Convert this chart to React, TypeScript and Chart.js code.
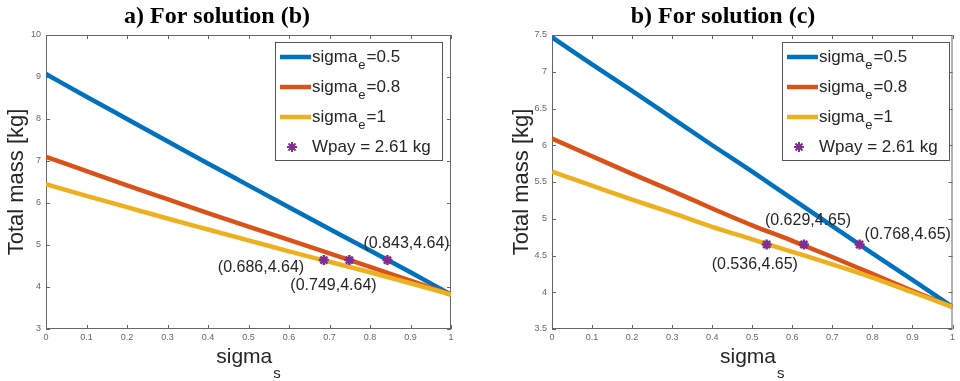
import React, { useEffect, useRef } from "react";
import { Chart, registerables } from "chart.js";
Chart.register(...registerables);

// ---------- data ----------
const sigmaS = [0, 0.1, 0.2, 0.3, 0.4, 0.5, 0.6, 0.7, 0.8, 0.9, 1];

// panel a) For solution (b)
const aBlue = [9.07, 8.53, 8.0, 7.47, 6.94, 6.42, 5.9, 5.38, 4.87, 4.35, 3.82];
const aRed = [7.1, 6.76, 6.42, 6.09, 5.76, 5.44, 5.12, 4.8, 4.48, 4.15, 3.82];
const aYellow = [6.45, 6.17, 5.9, 5.63, 5.37, 5.11, 4.85, 4.6, 4.35, 4.09, 3.82];
const aPointsX = [0.686, 0.749, 0.843];
const aPointsY = [4.64, 4.64, 4.64];
const aPointLabels = ["(0.686,4.64)", "(0.749,4.64)", "(0.843,4.64)"];

// panel b) For solution (c)
const bBlue = [7.47, 7.1, 6.74, 6.37, 6.0, 5.64, 5.27, 4.9, 4.53, 4.17, 3.8];
const bRed = [6.09, 5.85, 5.61, 5.38, 5.14, 4.91, 4.7, 4.48, 4.25, 4.02, 3.8];
const bYellow = [5.64, 5.45, 5.26, 5.08, 4.89, 4.72, 4.55, 4.38, 4.2, 4.0, 3.8];
const bPointsX = [0.536, 0.629, 0.768];
const bPointsY = [4.65, 4.65, 4.65];
const bPointLabels = ["(0.536,4.65)", "(0.629,4.65)", "(0.768,4.65)"];

const legendValues = ["=0.5", "=0.8", "=1"];
const markerLegend = "Wpay = 2.61 kg";
const titles = ["a) For solution (b)", "b) For solution (c)"];
const yTitle = "Total mass [kg]";

const BLUE = "#0072BD";
const RED = "#D95319";
const YELLOW = "#EDB120";
const PURPLE = "#7E2F8E";

const SANS = "'Liberation Sans', Arial, sans-serif";

const fmt = (v: number) => String(Number(v.toFixed(3)));

const decoPlugin = {
  id: "deco",
  beforeDatasetsDraw(chart: any) {
    const { left, right, top, bottom } = chart.chartArea;
    const ctx = chart.ctx;
    const xs = chart.scales.x, ys = chart.scales.y;
    ctx.save();
    ctx.strokeStyle = "#666";
    ctx.lineWidth = 1;
    ctx.strokeRect(left + 0.5, top + 0.5, right - left - 1, bottom - top - 1);
    ctx.beginPath();
    xs.ticks.forEach((t: any) => {
      const px = Math.round(xs.getPixelForValue(t.value)) + 0.5;
      ctx.moveTo(px, bottom); ctx.lineTo(px, bottom - 4);
      ctx.moveTo(px, top); ctx.lineTo(px, top + 4);
    });
    ys.ticks.forEach((t: any) => {
      const py = Math.round(ys.getPixelForValue(t.value)) + 0.5;
      ctx.moveTo(left, py); ctx.lineTo(left + 4, py);
      ctx.moveTo(right, py); ctx.lineTo(right - 4, py);
    });
    ctx.stroke();
    ctx.restore();
  },
  afterDraw(chart: any) {
    const o = chart.options.plugins.deco;
    const ctx = chart.ctx;
    const { left, right } = chart.chartArea;
    const xs = chart.scales.x, ys = chart.scales.y;
    ctx.save();
    // title
    ctx.fillStyle = "#000";
    ctx.font = "bold 24px 'Liberation Serif', 'Times New Roman', serif";
    ctx.textAlign = "center";
    ctx.textBaseline = "alphabetic";
    ctx.fillText(o.title, o.titleX, 23);
    // y title
    ctx.save();
    ctx.translate(o.yTitleX, 182);
    ctx.rotate(-Math.PI / 2);
    ctx.font = `22px ${SANS}`;
    ctx.fillStyle = "#262626";
    ctx.textBaseline = "middle";
    ctx.fillText(yTitle, 0, 0);
    ctx.restore();
    // x title with subscript
    ctx.font = `21px ${SANS}`;
    ctx.fillStyle = "#262626";
    ctx.textAlign = "left";
    ctx.textBaseline = "alphabetic";
    const w1 = ctx.measureText("sigma").width;
    ctx.font = `15px ${SANS}`;
    const w2 = ctx.measureText("s").width;
    const cx = (left + right) / 2;
    const sx = cx - (w1 + 1 + w2) / 2;
    ctx.font = `21px ${SANS}`;
    ctx.fillText("sigma", sx, 363);
    ctx.font = `15px ${SANS}`;
    ctx.fillText("s", sx + w1 + 1, 378);
    // annotations
    ctx.font = `16px ${SANS}`;
    ctx.fillStyle = "#262626";
    ctx.textBaseline = "middle";
    o.labels.forEach((lab: string, i: number) => {
      const px = xs.getPixelForValue(o.px[i]);
      const py = ys.getPixelForValue(o.py[i]);
      const [dx, dy] = o.offsets[i];
      ctx.fillText(lab, px + dx, py + dy);
    });
    // legend
    const lx = o.legendX, ly = 42, lw = 167, lh = 118;
    ctx.fillStyle = "#fff";
    ctx.fillRect(lx, ly, lw, lh);
    ctx.strokeStyle = "#555";
    ctx.lineWidth = 1;
    ctx.strokeRect(lx + 0.5, ly + 0.5, lw, lh);
    const cols = [BLUE, RED, YELLOW];
    for (let i = 0; i < 3; i++) {
      const ry = ly + 15 + 30 * i;
      ctx.strokeStyle = cols[i];
      ctx.lineWidth = 4.5;
      ctx.beginPath();
      ctx.moveTo(lx + 5, ry);
      ctx.lineTo(lx + 36, ry);
      ctx.stroke();
      ctx.fillStyle = "#262626";
      ctx.textBaseline = "middle";
      ctx.font = `17px ${SANS}`;
      let tx = lx + 37;
      ctx.fillText("sigma", tx, ry);
      tx += ctx.measureText("sigma").width + 1;
      ctx.font = `13px ${SANS}`;
      ctx.fillText("e", tx, ry + 8);
      tx += ctx.measureText("e").width + 1;
      ctx.font = `17px ${SANS}`;
      ctx.fillText(legendValues[i], tx, ry);
    }
    const ry4 = ly + 15 + 90;
    drawStar(ctx, lx + 17, ry4);
    ctx.fillStyle = "#262626";
    ctx.font = `17px ${SANS}`;
    ctx.fillText(markerLegend, lx + 37, ry4);
    ctx.restore();
  },
};

function drawStar(ctx: CanvasRenderingContext2D, x: number, y: number) {
  ctx.save();
  ctx.strokeStyle = PURPLE;
  ctx.fillStyle = "rgba(126,47,142,0.6)";
  ctx.beginPath();
  ctx.arc(x, y, 3, 0, Math.PI * 2);
  ctx.fill();
  ctx.lineWidth = 2;
  const r = 5;
  ctx.beginPath();
  for (let k = 0; k < 4; k++) {
    const a = (k * Math.PI) / 4;
    ctx.moveTo(x - r * Math.cos(a), y - r * Math.sin(a));
    ctx.lineTo(x + r * Math.cos(a), y + r * Math.sin(a));
  }
  ctx.stroke();
  ctx.restore();
}

type PanelProps = {
  blue: number[]; red: number[]; yellow: number[];
  px: number[]; py: number[]; labels: string[];
  yMin: number; yMax: number; yStep: number;
  deco: any; plotLeft: number; padRight: number;
};

function Panel(p: PanelProps) {
  const ref = useRef<HTMLCanvasElement>(null);
  useEffect(() => {
    const toXY = (ys: number[]) => sigmaS.map((x, i) => ({ x, y: ys[i] }));
    const line = (data: number[], color: string, order: number) => ({
      type: "line" as const,
      data: toXY(data),
      borderColor: color,
      borderWidth: 4.5,
      pointRadius: 0,
      cubicInterpolationMode: "monotone",
      order,
    });
    const chart = new Chart(ref.current!, {
      type: "line",
      data: {
        datasets: [
          line(p.blue, BLUE, 3) as any,
          line(p.red, RED, 2) as any,
          line(p.yellow, YELLOW, 1) as any,
          {
            type: "scatter",
            data: p.px.map((x, i) => ({ x, y: p.py[i] })),
            showLine: false,
            pointStyle: "star",
            pointRadius: 5,
            borderWidth: 2.5,
            borderColor: PURPLE,
            backgroundColor: PURPLE,
            order: 0,
          } as any,
        ],
      },
      options: {
        animation: false,
        responsive: false,
        events: [],
        layout: { padding: { left: 0, right: p.padRight, top: 35, bottom: 0 } },
        plugins: {
          legend: { display: false },
          tooltip: { enabled: false },
          deco: { ...p.deco, labels: p.labels, px: p.px, py: p.py },
        } as any,
        scales: {
          x: {
            type: "linear",
            min: 0,
            max: 1,
            ticks: { stepSize: 0.1, font: { size: 9, family: SANS }, color: "#666", padding: 3, maxRotation: 0, callback: (v: any) => fmt(Number(v)) },
            grid: { display: false, drawTicks: false },
            border: { display: false },
            afterFit: (s: any) => { s.height = 52; },
          },
          y: {
            type: "linear",
            min: p.yMin,
            max: p.yMax,
            ticks: { stepSize: p.yStep, font: { size: 9, family: SANS }, color: "#666", padding: 5, callback: (v: any) => fmt(Number(v)) },
            grid: { display: false, drawTicks: false },
            border: { display: false },
            afterFit: (s: any) => { s.width = p.plotLeft; },
          },
        },
      },
      plugins: [decoPlugin],
    });
    return () => chart.destroy();
  }, []);
  return <canvas ref={ref} width={480} height={381} style={{ display: "block" }} />;
}

export default function App() {
  return (
    <div style={{ position: "fixed", left: 0, top: 0, width: 960, height: 381, background: "#fff", display: "flex" }}>
      <Panel
        blue={aBlue} red={aRed} yellow={aYellow}
        px={aPointsX} py={aPointsY} labels={aPointLabels}
        yMin={3} yMax={10} yStep={1}
        plotLeft={46} padRight={29}
        deco={{ title: titles[0], titleX: 217, yTitleX: 17, legendX: 275,
          offsets: [[-106, 7], [-59, 25], [-24, -17]] }}
      />
      <Panel
        blue={bBlue} red={bRed} yellow={bYellow}
        px={bPointsX} py={bPointsY} labels={bPointLabels}
        yMin={3.5} yMax={7.5} yStep={0.5}
        plotLeft={72} padRight={2}
        deco={{ title: titles[1], titleX: 243, yTitleX: 42, legendX: 302,
          offsets: [[-55, 20], [-39, -24], [5, -10]] }}
      />
    </div>
  );
}
